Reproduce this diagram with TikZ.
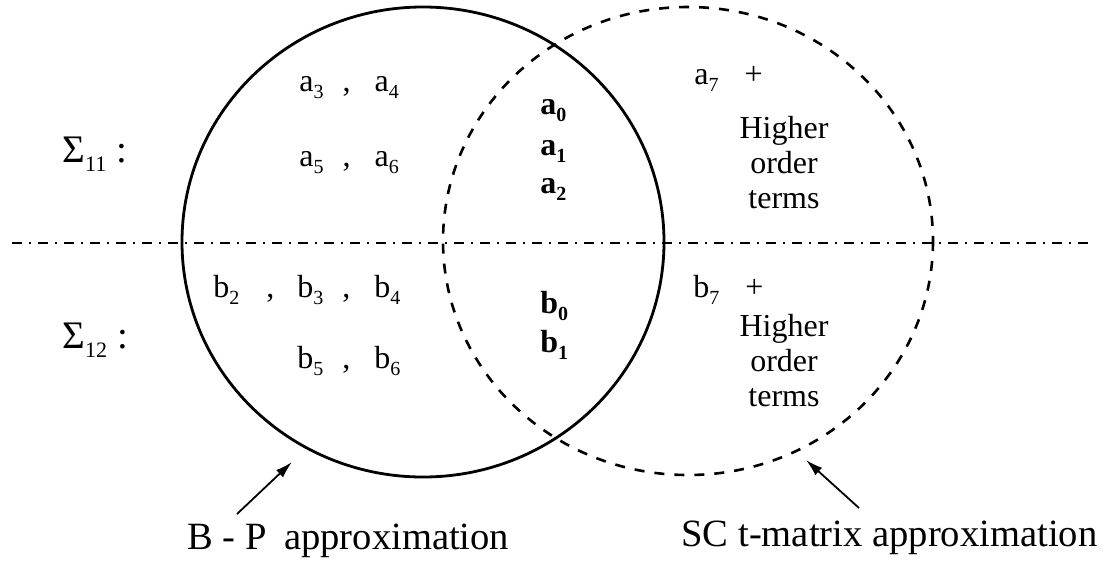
\documentclass[tikz,border=0pt]{standalone}
\usepackage{fontspec}
\setmainfont{Liberation Serif}
\usetikzlibrary{arrows.meta}

\newcommand{\sbs}[2]{#1\raisebox{-0.5ex}{\fontsize{10}{10}\selectfont #2}}

\tikzset{
  term/.style={inner sep=0pt, anchor=base west, font=\fontsize{16}{17.5}\selectfont},
  bigterm/.style={term, font=\fontsize{16}{17.5}\selectfont\bfseries},
  sigma/.style={inner sep=0pt, anchor=base west, font=\fontsize{19.5}{21}\selectfont},
  approx/.style={inner sep=0pt, anchor=base west, font=\fontsize{19.3}{21}\selectfont},
  pointer/.style={-{Latex[length=8.5pt,width=5pt]}, line width=0.9pt},
}

\begin{document}
\begin{tikzpicture}[x=0.5pt, y=-0.5pt]
\useasboundingbox (0,0) rectangle (1106,563);

% the two sets
\draw[line width=1.4pt] (423,242) ellipse [x radius=241, y radius=235];
\draw[line width=1.3pt, dash pattern=on 5pt off 5pt] (688,241) ellipse [x radius=245, y radius=234];

% dash-dot divider
\coordinate (lft) at (12,243);
\coordinate (rgt) at (1092,243);
\draw[line width=1.3pt, dash pattern=on 5pt off 3.5pt on 1pt off 3.5pt] (lft) -- (rgt);

% Sigma rows
\node[sigma] (s11) at (62,162) {Σ\raisebox{-0.55ex}{\fontsize{11}{11}\selectfont 11}\hspace{5pt}:};
\node[sigma] (s12) at (62,348) {Σ\raisebox{-0.55ex}{\fontsize{11}{11}\selectfont 12}\hspace{5pt}:};

% B-P only
\node[term] (a34) at (299,91) {\sbs{a}{3}\hspace{9.5pt},\hspace{12pt}\sbs{a}{4}};
\node[term] (a56) at (299,166) {\sbs{a}{5}\hspace{9.5pt},\hspace{12pt}\sbs{a}{6}};
\node[term] (b234) at (213,297) {\sbs{b}{2}\hspace{13.5pt},\hspace{11.5pt}\sbs{b}{3}\hspace{9.5pt},\hspace{12pt}\sbs{b}{4}};
\node[term] (b56) at (297,368) {\sbs{b}{5}\hspace{9.5pt},\hspace{12pt}\sbs{b}{6}};

% overlap
\node[bigterm] (a0) at (540,114) {\sbs{a}{0}};
\node[bigterm] (a1) at (540,155) {\sbs{a}{1}};
\node[bigterm] (a2) at (540,193) {\sbs{a}{2}};
\node[bigterm] (b0) at (540,313) {\sbs{b}{0}};
\node[bigterm] (b1) at (540,352) {\sbs{b}{1}};

% SC t-matrix only
\node[term] (a7) at (694,84) {\sbs{a}{7}\hspace{13pt}+};
\node[term, anchor=north, align=center] (hoa) at (784,116) {Higher\\order\\terms};
\node[term] (b7) at (693,297) {\sbs{b}{7}\hspace{13pt}+};
\node[term, anchor=north, align=center] (hob) at (784,314) {Higher\\order\\terms};

% labels
\node[approx] (bp) at (187,549) {B - P\hspace{0.45em}approximation};
\node[approx] (sc) at (681,546) {SC t-matrix approximation};

\coordinate (bptail) at (237,514);
\coordinate (bptip) at (292,462);
\coordinate (sctail) at (859,508);
\coordinate (sctip) at (806,460);
\draw[pointer] (bptail) -- (bptip);
\draw[pointer] (sctail) -- (sctip);
\end{tikzpicture}
\end{document}
